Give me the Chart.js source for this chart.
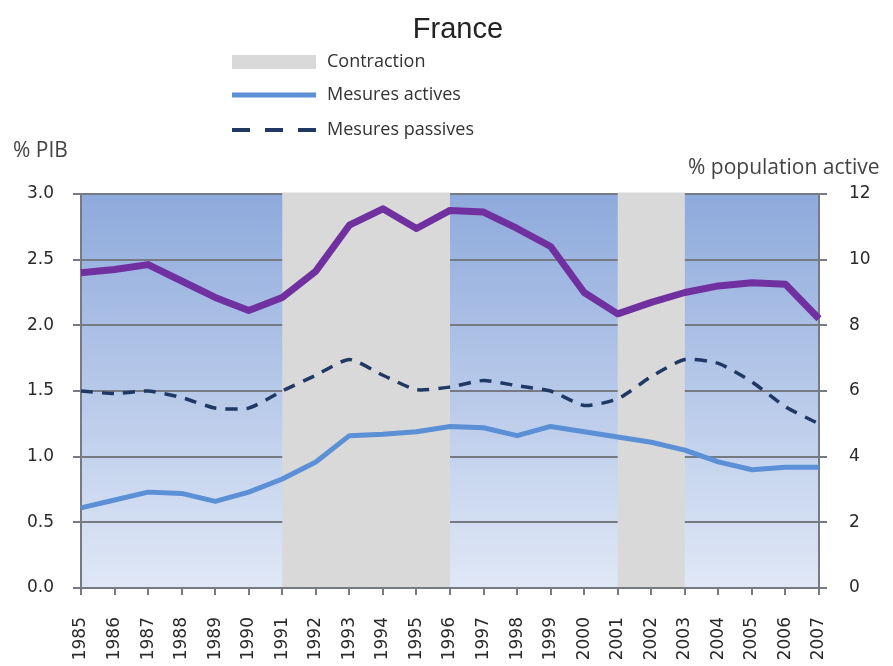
<!DOCTYPE html>
<html>
<head>
<meta charset="utf-8">
<script src="https://cdn.jsdelivr.net/npm/chart.js@4.4.1/dist/chart.umd.min.js"></script>
<style>
    html, body { margin: 0; padding: 0; background: #fff; }
    #wrap { width: 893px; height: 666px; position: relative; }
</style>
</head>
<body>
<div id="wrap"><canvas id="chart"></canvas></div>
<script>
// ─── DATA ─────────────────────────────────────────────────────────────────────
const years = ['1985', '1986', '1987', '1988', '1989', '1990', '1991', '1992', '1993', '1994', '1995', '1996',
               '1997', '1998', '1999', '2000', '2001', '2002', '2003', '2004', '2005', '2006', '2007'];

// % PIB (left axis)
const activeMeasures  = [0.61, 0.67, 0.73, 0.72, 0.66, 0.73, 0.83, 0.96, 1.16, 1.17, 1.19, 1.23,
                         1.22, 1.16, 1.23, 1.19, 1.15, 1.11, 1.05, 0.96, 0.90, 0.92, 0.92];
const passiveMeasures = [1.50, 1.48, 1.50, 1.45, 1.37, 1.37, 1.50, 1.62, 1.74, 1.62, 1.51, 1.53,
                         1.58, 1.54, 1.50, 1.39, 1.44, 1.61, 1.74, 1.71, 1.57, 1.38, 1.25];

// % population active (right axis)
const unemployment    = [9.6, 9.7, 9.85, 9.35, 8.85, 8.45, 8.85, 9.65, 11.05, 11.55, 10.95, 11.5,
                         11.45, 10.95, 10.4, 9.0, 8.35, 8.7, 9.0, 9.2, 9.3, 9.25, 8.2];

// recession periods (start year, end year)
const contractions = [['1991', '1996'], ['2001', '2003']];

const pibRange = { min: 0, max: 3, step: 0.5 };
const popRange = { min: 0, max: 12, step: 2 };

// ─── STYLE ────────────────────────────────────────────────────────────────────
const colActive  = '#5b8fd6';
const colPassive = '#1f3864';
const colUnemp   = '#7030a0';
const colGrid    = '#767a82';
const colBand    = '#d9d9d9';
const tickFont   = { family: "'DejaVu Sans', sans-serif", size: 17 };
const textFont   = "'Open Sans', sans-serif";

// ─── DECOR PLUGIN ─────────────────────────────────────────────────────────────
const decor = {
    id: 'decor',
    beforeDraw(chart) {
        const { ctx, chartArea: a } = chart;
        const g = ctx.createLinearGradient(0, a.top, 0, a.bottom);
        g.addColorStop(0, '#8eaadc');
        g.addColorStop(1, '#e0e8f6');
        ctx.save();
        ctx.fillStyle = g;
        ctx.fillRect(a.left, a.top, a.right - a.left, a.bottom - a.top);
        ctx.restore();
    },
    beforeDatasetsDraw(chart) {
        const { ctx, chartArea: a, scales } = chart;
        ctx.save();
        ctx.fillStyle = colBand;
        contractions.forEach(([s, e]) => {
            const x0 = scales.x.getPixelForValue(years.indexOf(s));
            const x1 = scales.x.getPixelForValue(years.indexOf(e));
            ctx.fillRect(x0, a.top - 1.5, x1 - x0, a.bottom - a.top + 0.5);
        });
        ctx.restore();
    },
    afterDraw(chart) {
        const ctx = chart.ctx;
        ctx.save();
        // title
        ctx.fillStyle = '#222';
        ctx.font = "29px 'Liberation Sans', Arial, sans-serif";
        ctx.textAlign = 'center';
        ctx.textBaseline = 'alphabetic';
        ctx.fillText('France', 458, 38);

        // legend
        ctx.textAlign = 'left';
        ctx.textBaseline = 'middle';
        ctx.font = '18px ' + textFont;
        ctx.fillStyle = colBand;
        ctx.fillRect(232, 55, 84, 14);

        ctx.lineWidth = 5;
        ctx.strokeStyle = colActive;
        ctx.beginPath(); ctx.moveTo(232, 95); ctx.lineTo(316, 95); ctx.stroke();

        ctx.lineWidth = 4;
        ctx.strokeStyle = colPassive;
        ctx.setLineDash([18, 15]);
        ctx.beginPath(); ctx.moveTo(232, 130); ctx.lineTo(316, 130); ctx.stroke();
        ctx.setLineDash([]);

        ctx.fillStyle = '#333';
        ctx.fillText('Contraction', 327, 62);
        ctx.fillText('Mesures actives', 327, 95);
        ctx.fillText('Mesures passives', 327, 130);

        // axis titles
        ctx.font = '21px ' + textFont;
        ctx.fillStyle = '#444';
        ctx.fillText('% PIB', 13, 151);
        ctx.fillText('% population active', 688, 168);
        ctx.restore();
    }
};

// ─── CHART ────────────────────────────────────────────────────────────────────
new Chart(document.getElementById('chart'), {
    type: 'line',
    data: {
        labels: years,
        datasets: [
            {
                label: 'Chômage',
                data: unemployment,
                yAxisID: 'y1',
                borderColor: colUnemp,
                borderWidth: 7,
                pointRadius: 0,
                borderJoinStyle: 'round',
                tension: 0
            },
            {
                label: 'Mesures passives',
                data: passiveMeasures,
                yAxisID: 'y',
                borderColor: colPassive,
                borderWidth: 3.5,
                borderDash: [12, 9],
                pointRadius: 0,
                tension: 0.2
            },
            {
                label: 'Mesures actives',
                data: activeMeasures,
                yAxisID: 'y',
                borderColor: colActive,
                borderWidth: 5,
                pointRadius: 0,
                borderJoinStyle: 'round',
                tension: 0
            }
        ]
    },
    options: {
        responsive: true,
        maintainAspectRatio: false,
        animation: false,
        layout: { padding: { top: 194, left: 0, right: 0, bottom: 0 } },
        plugins: { legend: { display: false }, title: { display: false }, tooltip: { enabled: false } },
        scales: {
            x: {
                offset: false,
                grid: { drawOnChartArea: false, drawTicks: true, tickLength: 7, color: colGrid, lineWidth: 2 },
                border: { color: colGrid, width: 2 },
                ticks: { font: tickFont, color: '#2a2a2a', minRotation: 90, maxRotation: 90, padding: 22, autoSkip: false },
                afterFit: s => { s.height = 78; }
            },
            y: {
                position: 'left',
                min: pibRange.min, max: pibRange.max,
                grid: { color: colGrid, lineWidth: 2, tickLength: 8 },
                border: { color: colGrid, width: 2 },
                ticks: { stepSize: pibRange.step, font: tickFont, color: '#2a2a2a', padding: 19,
                         callback: v => v.toFixed(1) },
                afterFit: s => { s.width = 81; }
            },
            y1: {
                position: 'right',
                min: popRange.min, max: popRange.max,
                grid: { drawOnChartArea: false, color: colGrid, lineWidth: 2, tickLength: 8 },
                border: { color: colGrid, width: 2 },
                ticks: { stepSize: popRange.step, font: tickFont, color: '#2a2a2a', padding: 22 },
                afterFit: s => { s.width = 74; }
            }
        }
    },
    plugins: [decor]
});
</script>
</body>
</html>
